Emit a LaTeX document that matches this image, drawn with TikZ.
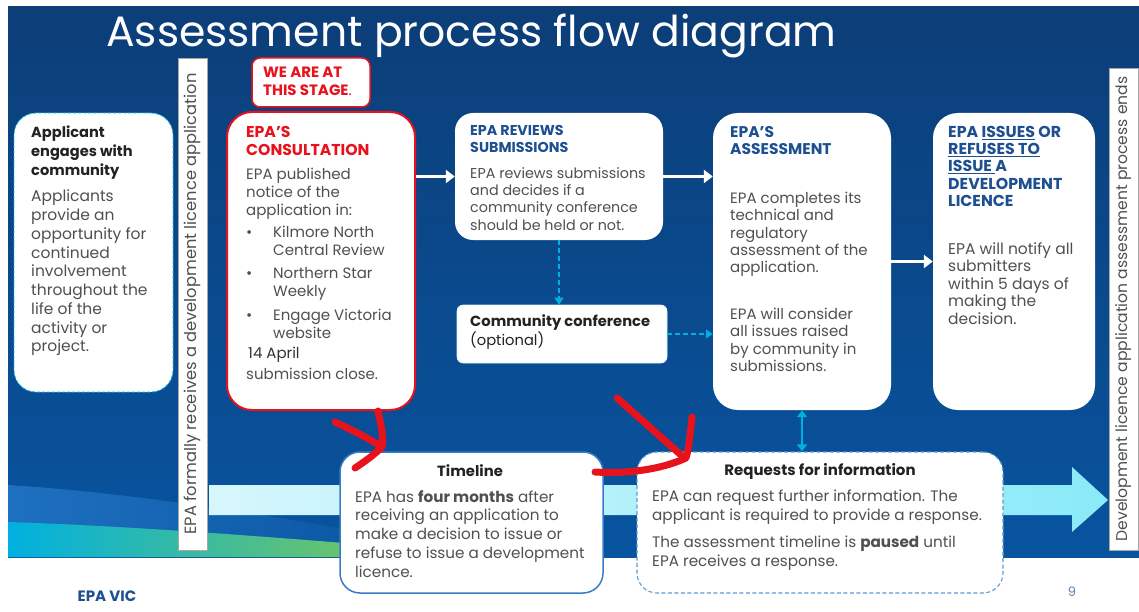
\documentclass[tikz,border=0pt]{standalone}
\usepackage{fontspec}
\setmainfont{Poppins}
\usetikzlibrary{arrows.meta}

\definecolor{epanavy}{RGB}{12,62,120}
\definecolor{epablue}{RGB}{8,84,160}
\definecolor{headblue}{RGB}{29,79,145}
\definecolor{epared}{RGB}{232,18,28}
\definecolor{inkgrey}{RGB}{80,80,80}
\definecolor{inkdark}{RGB}{34,34,34}
\definecolor{skyline}{RGB}{0,176,224}
\definecolor{paleband}{RGB}{214,246,252}
\definecolor{cyanband}{RGB}{138,234,248}
\definecolor{boxblue}{RGB}{58,123,200}
\definecolor{dashblue}{RGB}{91,155,213}
\definecolor{cardedge}{RGB}{0,190,230}
\definecolor{wavegreen}{RGB}{130,200,80}
\definecolor{waveblue}{RGB}{30,112,192}

\begin{document}
\begin{tikzpicture}[x=1pt, y=-1pt,
    card/.style={fill=white, rounded corners=22pt, inner sep=0pt},
    body/.style={anchor=north west, inner sep=0pt, align=left, text=inkgrey,
                 font=\fontsize{15}{17.4}\selectfont},
    head/.style={anchor=north west, inner sep=0pt, align=left, text=headblue,
                 font=\fontsize{15.5}{17.4}\selectfont\bfseries},
    flow/.style={draw=white, line width=2.6pt, -{Triangle[length=9pt,width=13pt]}},
    maybe/.style={draw=skyline, line width=1.6pt, dash pattern=on 5pt off 3pt,
                  -{Triangle[length=7pt,width=9pt]}},
    scribble/.style={draw=epared, line width=7pt, line cap=round, line join=round},
    sidebar/.style={fill=white, draw=gray!70, line width=0.6pt, rotate=90,
                    inner sep=0pt, minimum height=29pt, text=inkgrey,
                    font=\fontsize{16.3}{16.3}\selectfont}]

    \useasboundingbox (0,0) rectangle (1139,612);
    \fill[white] (0,0) rectangle (1139,612);

    % backdrop and waves
    \shade[top color=epanavy, bottom color=epablue] (8,7) rectangle (1139,557);
    \shade[left color=waveblue, right color=epablue]
        (8,485) .. controls (120,492) and (260,512) .. (430,545) -- (430,557) -- (8,557) -- cycle;
    \shade[left color=skyline, right color=wavegreen]
        (8,522) .. controls (130,526) and (260,536) .. (430,550) -- (430,557) -- (8,557) -- cycle;

    % long arrow running under the bottom boxes
    \shade[left color=paleband, right color=cyanband]
        (209,485) -- (1072,485) -- (1072,467) -- (1108,500) -- (1072,532)
        -- (1072,515) -- (209,515) -- cycle;

    \node[anchor=base west, inner sep=0pt, text=white, font=\fontsize{42.5}{42.5}\selectfont]
        (title) at (106,47) {Assessment process flow diagram};

    \node[sidebar, minimum width=492pt] (received) at (192.5,304)
        {EPA formally receives a development licence application};
    \node[sidebar, minimum width=482pt, font=\fontsize{15.6}{15.6}\selectfont] (ended) at (1123.5,309)
        {Development licence application assessment process ends};

    % boxes
    \node[card, draw=cardedge, line width=0.8pt, densely dashed,
          minimum width=159pt, minimum height=279pt] (applicant) at (93.5,252.5) {};
    \node[card, draw=epared, line width=1.5pt, rounded corners=8pt,
          minimum width=118pt, minimum height=49pt] (stage) at (311,82.5) {};
    \node[card, draw=epared, line width=2pt, rounded corners=25pt,
          minimum width=188pt, minimum height=298pt] (consult) at (321,261) {};
    \node[card, rounded corners=18pt, minimum width=208pt, minimum height=127pt]
        (review) at (559,176.5) {};
    \node[card, rounded corners=6pt, draw=white!85!skyline, line width=0.6pt,
          minimum width=210pt, minimum height=58pt] (conference) at (562,334) {};
    \node[card, rounded corners=25pt, minimum width=178pt, minimum height=297pt]
        (assess) at (802,261.5) {};
    \node[card, rounded corners=25pt, minimum width=162pt, minimum height=297pt]
        (issue) at (1014,261.5) {};
    \node[card, draw=boxblue, line width=1.5pt, rounded corners=20pt,
          minimum width=263pt, minimum height=141pt] (timeline) at (471.5,522.5) {};
    \node[card, draw=dashblue, line width=1.1pt, dash pattern=on 4pt off 2.5pt,
          rounded corners=20pt, minimum width=366pt, minimum height=141pt] (request) at (820,522.5) {};

    % box texts
    \node[head, text=inkdark, font=\fontsize{14.6}{19}\selectfont\bfseries]
        (applicant-head) at (31,126) {Applicant\\engages with\\community};
    \node[body, font=\fontsize{15.5}{18.75}\selectfont] (applicant-text) at (31,190)
        {Applicants\\provide an\\opportunity for\\continued\\involvement\\throughout the\\life of the\\activity or\\project.};

    \node[head, text=epared, font=\fontsize{15}{18}\selectfont\bfseries] (stage-text) at (263,67)
        {WE ARE AT\\THIS STAGE{\mdseries.}};

    \node[head, text=epared, font=\fontsize{15.7}{18}\selectfont\bfseries] (consult-head) at (246,126)
        {EPA’S\\CONSULTATION};
    \node[body, font=\fontsize{15}{17.8}\selectfont] (consult-text) at (246,168)
        {EPA published\\notice of the\\application in:\\[4.5pt]
         \makebox[27pt][l]{\textbullet}Kilmore North\\\hspace*{27pt}Central Review\\[5.5pt]
         \makebox[27pt][l]{\textbullet}Northern Star\\\hspace*{27pt}Weekly\\[6pt]
         \makebox[27pt][l]{\textbullet}Engage Victoria\\\hspace*{27pt}website\\[3pt]
         \hspace*{2pt}{\color{black!80}14 April}\\[3pt]
         submission close.};

    \node[head, font=\fontsize{14.3}{17.4}\selectfont\bfseries] (review-head) at (470,125)
        {EPA REVIEWS\\SUBMISSIONS};
    \node[body, font=\fontsize{14.3}{17.4}\selectfont] (review-text) at (470,167)
        {EPA reviews submissions\\and decides if a\\community conference\\should be held or not.};

    \node[body, text=inkdark, font=\fontsize{14.7}{19}\selectfont] (conference-text) at (470,315)
        {\textbf{Community conference}\\(optional)};

    \node[head] (assess-head) at (730,126) {EPA’S\\ASSESSMENT};
    \node[body, font=\fontsize{15}{17.25}\selectfont] (assess-text) at (730,192)
        {EPA completes its\\technical and\\regulatory\\assessment of the\\application.};
    \node[body, font=\fontsize{15}{17.25}\selectfont] (assess-more) at (730,308)
        {EPA will consider\\all issues raised\\by community in\\submissions.};

    \node[head, font=\fontsize{15.8}{17.25}\selectfont\bfseries] (issue-head) at (948,126)
        {EPA \underline{ISSUES} OR\\\underline{REFUSES TO}\\\underline{ISSUE\ }A\\DEVELOPMENT\\LICENCE};
    \node[body, font=\fontsize{15.5}{17.5}\selectfont] (issue-text) at (948,242)
        {EPA will notify all\\submitters\\within 5 days of\\making the\\decision.};

    \node[inner sep=0pt, text=inkdark, font=\fontsize{14.8}{14.8}\selectfont\bfseries]
        (timeline-head) at (470,471) {Timeline};
    \node[body, font=\fontsize{15.2}{18.75}\selectfont] (timeline-text) at (355,490)
        {EPA has \textbf{four months} after\\receiving an application to\\make a decision to issue or\\refuse to issue a development\\licence.};

    \node[inner sep=0pt, text=inkdark, font=\fontsize{15}{15}\selectfont\bfseries]
        (request-head) at (820,471) {Requests for information};
    \node[body, font=\fontsize{15.2}{18.75}\selectfont] (request-text) at (652,490)
        {EPA can request further information. The\\applicant is required to provide a response.\\[8pt]
         The assessment timeline is \textbf{paused} until\\EPA receives a response.};

    % connectors
    \draw[flow] (consult.east |- review.west) -- (review.west);
    \draw[flow] (review.east) -- (assess.west |- review.east);
    \draw[flow] (assess.east) -- (issue.west);
    \draw[maybe] (review.south) -- (review.south |- conference.north);
    \draw[maybe] (conference.east) -- (assess.west |- conference.east);
    \draw[draw=skyline, line width=1.8pt, {Triangle[length=7pt,width=10pt]}-{Triangle[length=7pt,width=10pt]}]
        (assess.south) -- (assess.south |- request.north);

    % hand drawn marks
    \draw[scribble] (335,422) .. controls (352,430) and (368,438) .. (380,446);
    \draw[scribble] (378,411) .. controls (381,425) and (384,438) .. (382,447)
        .. controls (374,455) and (364,462) .. (355,468);
    \draw[scribble] (617,398) -- (681,455);
    \draw[scribble] (692,417) .. controls (690,435) and (689,448) .. (686,458)
        .. controls (660,470) and (625,474) .. (595,472);

    % footer
    \node[inner sep=0pt, text=headblue, font=\fontsize{15}{15}\selectfont\bfseries]
        (footer) at (107,596) {EPA VIC};
    \node[inner sep=0pt, text=headblue!70, font=\fontsize{13}{13}\selectfont]
        (page) at (1072,592) {9};
\end{tikzpicture}
\end{document}
